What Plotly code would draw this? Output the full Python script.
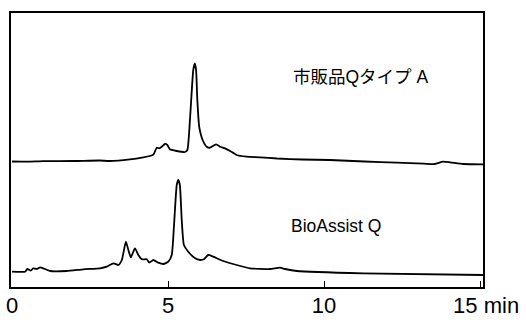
import plotly.graph_objects as go

# Retention time (min) and detector signal (arbitrary units) for the two chromatograms
time_upper = [0.00, 0.5, 1.0, 2.0, 2.8, 3.14, 3.78, 4.21, 4.42, 4.53, 4.64, 4.72, 4.80, 4.90,
              4.98, 5.06, 5.28, 5.54, 5.62, 5.71, 5.81, 5.86, 5.90, 5.94, 6.00, 6.11, 6.24,
              6.35, 6.54, 6.67, 6.83, 6.99, 7.20, 7.52, 7.95, 8.5, 9.3, 10.19, 11.3, 12.34,
              13.2, 13.55, 13.81, 14.04, 14.46, 15.1]
signal_upper = [125.5, 125.3, 125.8, 126.0, 126.5, 126.0, 127.7, 129.7, 131.0, 132.3, 139.3,
                138.7, 140.3, 143.0, 142.0, 137.7, 136.0, 135.0, 137.0, 170.3, 217.0, 223.7,
                217.0, 187.0, 160.3, 147.0, 140.3, 139.3, 142.7, 140.3, 138.7, 136.0, 132.0,
                130.3, 129.7, 128.5, 127.5, 127.0, 125.5, 124.3, 123.3, 123.0, 125.3, 124.7,
                123.0, 122.7]

time_lower = [0.00, 0.42, 0.49, 0.60, 0.68, 0.79, 0.90, 1.00, 1.22, 1.75, 2.29, 2.82, 3.04,
              3.25, 3.41, 3.52, 3.65, 3.73, 3.81, 3.94, 4.05, 4.16, 4.32, 4.40, 4.53, 4.69,
              4.85, 5.01, 5.12, 5.19, 5.28, 5.33, 5.38, 5.44, 5.51, 5.65, 5.87, 6.03, 6.15,
              6.29, 6.45, 6.77, 7.20, 7.63, 8.27, 8.59, 8.75, 9.13, 11.25, 15.1]
signal_lower = [15.3, 15.3, 18.0, 16.3, 18.7, 18.0, 19.7, 18.7, 16.0, 16.0, 17.7, 18.7, 20.3,
                23.7, 22.0, 27.0, 45.3, 37.0, 29.7, 38.7, 32.0, 27.7, 27.7, 24.3, 27.0, 24.3,
                23.0, 25.3, 32.0, 60.3, 102.0, 107.0, 102.0, 67.0, 42.0, 35.3, 28.7, 27.0,
                27.7, 32.0, 30.3, 26.0, 22.0, 18.7, 18.0, 19.3, 18.0, 16.0, 13.7, 12.0]

label_upper = "市販品Qタイプ A"
label_lower = "BioAssist Q"

tick_vals = [0, 5, 10, 15]
tick_text = ["0", "5", "10", "&nbsp;&nbsp;15 min"]

fig = go.Figure()
for t, s in [(time_upper, signal_upper), (time_lower, signal_lower)]:
    fig.add_trace(go.Scatter(x=t, y=s, mode="lines",
                             line=dict(color="black", width=1.8, shape="spline", smoothing=0.5),
                             hoverinfo="skip", showlegend=False))

txt_font = dict(family="Liberation Sans, Arial, Noto Sans CJK JP", size=17.5, color="black")
fig.add_annotation(x=8.93, y=210, text=label_upper, showarrow=False, xanchor="left",
                   yanchor="middle", font=txt_font)
fig.add_annotation(x=8.88, y=61.3, text=label_lower, showarrow=False, xanchor="left",
                   yanchor="middle", font=txt_font)

fig.update_xaxes(range=[-0.032, 15.096], tickvals=tick_vals, ticktext=tick_text,
                 ticks="inside", ticklen=6, tickwidth=1.2, tickcolor="black",
                 showline=True, mirror=True, linecolor="black", linewidth=1.5,
                 showgrid=False, zeroline=False, automargin=False, ticklabelstandoff=-2,
                 tickfont=dict(family="Liberation Sans, Arial", size=22, color="black"))
fig.update_yaxes(range=[0, 274], showticklabels=False, ticks="",
                 showline=True, mirror=True, linecolor="black", linewidth=1.5,
                 showgrid=False, zeroline=False, automargin=False)

fig.update_layout(width=526, height=320, margin=dict(l=11, r=43, t=13, b=33, autoexpand=False),
                  paper_bgcolor="white", plot_bgcolor="white")

fig.write_html("out.html")
